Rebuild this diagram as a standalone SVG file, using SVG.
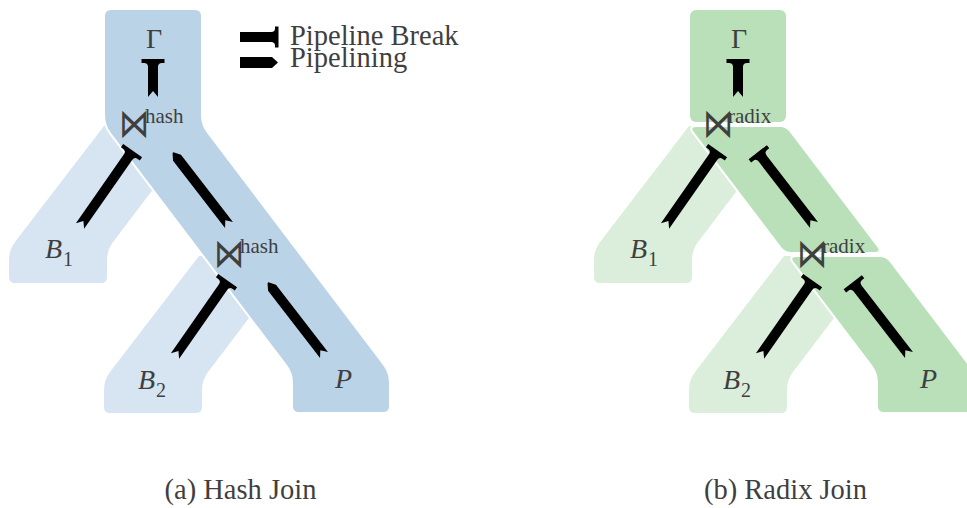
<svg xmlns="http://www.w3.org/2000/svg" width="967" height="508" viewBox="0 0 967 508">
  <style>
    .txt { font-family: "Liberation Serif", "DejaVu Serif", serif; fill: #3f3f3f; }
    .var { font-style: italic; font-size: 28px; }
    .sub { font-size: 20px; }
    .big { font-size: 28px; }
    .leg { font-size: 28.5px; }
    .sup { font-size: 21px; }
    .op { font-family: "DejaVu Sans", sans-serif; font-weight: 200; font-size: 30px; fill: #3f3f3f; }
    .cap { font-size: 28.5px; }
    .hashA { fill: #bbd3e7; }
    .hashB { fill: #d6e5f1; }
    .radA { fill: #b9e0b9; }
    .radB { fill: #dbeedb; }
    .outlined { stroke: #ffffff; stroke-width: 4; paint-order: stroke; stroke-linejoin: round; }
    .arrow { fill: #000000; }
  </style>
  <defs>
    <!-- pipeline break: bar with a notched tail and a perpendicular stop at the head -->
    <path id="brk" d="M0,-5 L84,-5 Q88,-5 88,-9 L88,-11.5 L92,-11.5 L92,11.5 L88,11.5 L88,9 Q88,5 84,5 L0,5 L6,0 Z"/>
    <path id="brkShort" d="M0,-5 L30,-5 Q34,-5 34,-9 L34,-11.5 L38,-11.5 L38,11.5 L34,11.5 L34,9 Q34,5 30,5 L0,5 L6,0 Z"/>
    <!-- pipelining: bar with a notched tail and a pointed head -->
    <path id="pip" d="M0,-5 L85,-5 L91,-1 Q92,0 91,1 L85,5 L0,5 L6,0 Z"/>
    <!-- build-side band: box at the bottom, slanting up to the right -->
    <path id="buildBand" d="M9,277 Q9,283 15,283 L101,283 Q107,283 107,277 L107,260 Q107,250 113,242 L201,126 L104,126 L15,242 Q9,250 9,260 Z"/>
  </defs>

  <!-- (a) hash join -->
  <g id="hash-build-1"><use href="#buildBand" class="hashB"/></g>
  <g id="hash-build-2"><use href="#buildBand" class="hashB" transform="translate(95,130)"/></g>
  <g id="hash-probe-pipeline">
    <path class="hashA outlined" d="M105,16 Q105,10 111,10 L195,10 Q201,10 201,16 L201,115 Q201,125 207,133 L383,365 Q389,373 389,383 L389,406 Q389,412 383,412 L299,412 Q293,412 293,406 L293,383 Q293,373 287,365 L111,133 Q105,125 105,115 Z"/>
  </g>

  <!-- (b) radix join -->
  <g id="radix-build-1"><use href="#buildBand" class="radB" transform="translate(585,0)"/></g>
  <g id="radix-build-2"><use href="#buildBand" class="radB" transform="translate(680,130)"/></g>
  <g id="radix-top">
    <rect class="radA outlined" x="690" y="10" width="96" height="112" rx="6"/>
  </g>
  <g id="radix-mid">
    <path class="radA outlined" d="M696,127 L780,127 Q786,127 789.6,131.8 L877.4,247.2 Q881,252 875,252 L791,252 Q785,252 781.4,247.2 L693.6,131.8 Q690,127 696,127 Z"/>
  </g>
  <g id="radix-low">
    <path class="radA outlined" d="M796,257 L880,257 Q886,257 889.6,261.8 L974,373 L974,412 L884,412 Q878,412 878,406 L878,383 Q878,373 872,365 L793.6,261.8 Q790,257 796,257 Z"/>
  </g>

  <!-- connectors -->
  <g id="connectors" class="arrow">
    <use href="#brkShort" transform="translate(153,97) rotate(-90)"/>
    <use href="#brk" transform="translate(80,226) rotate(-55.1)"/>
    <use href="#pip" transform="translate(229,225) rotate(-127.7)"/>
    <use href="#brk" transform="translate(175,356) rotate(-55.1)"/>
    <use href="#pip" transform="translate(324,355) rotate(-127.7)"/>

    <use href="#brkShort" transform="translate(738,97) rotate(-90)"/>
    <use href="#brk" transform="translate(665,226) rotate(-55.1)"/>
    <use href="#brk" transform="translate(814,225) rotate(-127.7)"/>
    <use href="#brk" transform="translate(760,356) rotate(-55.1)"/>
    <use href="#brk" transform="translate(909,355) rotate(-127.7)"/>
  </g>

  <!-- legend -->
  <g id="legend">
    <path class="arrow" d="M240,32 L271,32 Q275,32 275,28.5 L275,26.5 L278.5,26.5 L278.5,47.5 L275,47.5 L275,45.5 Q275,42 271,42 L240,42 Z"/>
    <path class="arrow" d="M240,57 L272,57 L278,62.5 L272,68 L240,68 Z"/>
    <text class="txt leg" x="290" y="45">Pipeline Break</text>
    <text class="txt leg" x="290" y="67">Pipelining</text>
  </g>

  <!-- operators of (a) -->
  <g id="hash-gamma"><text class="txt big" x="154" y="48" text-anchor="middle">Γ</text></g>
  <g id="hash-join-1">
    <text class="op" transform="translate(119,137) scale(1.02,1.35)">⋈</text>
    <text class="txt sup" x="145" y="123">hash</text>
  </g>
  <g id="hash-join-2">
    <text class="op" transform="translate(214,267) scale(1.02,1.35)">⋈</text>
    <text class="txt sup" x="240" y="253">hash</text>
  </g>
  <g id="hash-b1"><text class="txt var" x="45" y="258">B</text><text class="txt sub" x="63" y="266">1</text></g>
  <g id="hash-b2"><text class="txt var" x="138" y="389">B</text><text class="txt sub" x="156" y="397">2</text></g>
  <g id="hash-p"><text class="txt var" x="335" y="388">P</text></g>

  <!-- operators of (b) -->
  <g id="radix-gamma"><text class="txt big" x="739" y="48" text-anchor="middle">Γ</text></g>
  <g id="radix-join-1">
    <text class="op" transform="translate(703,137) scale(1.02,1.35)">⋈</text>
    <text class="txt sup" x="728" y="123">radix</text>
  </g>
  <g id="radix-join-2">
    <text class="op" transform="translate(797,267) scale(1.02,1.35)">⋈</text>
    <text class="txt sup" x="822" y="253">radix</text>
  </g>
  <g id="radix-b1"><text class="txt var" x="630" y="258">B</text><text class="txt sub" x="648" y="266">1</text></g>
  <g id="radix-b2"><text class="txt var" x="723" y="389">B</text><text class="txt sub" x="741" y="397">2</text></g>
  <g id="radix-p"><text class="txt var" x="920" y="388">P</text></g>

  <!-- captions -->
  <text class="txt cap" x="240.5" y="499" text-anchor="middle">(a) Hash Join</text>
  <text class="txt cap" x="785.5" y="499" text-anchor="middle">(b) Radix Join</text>
</svg>
